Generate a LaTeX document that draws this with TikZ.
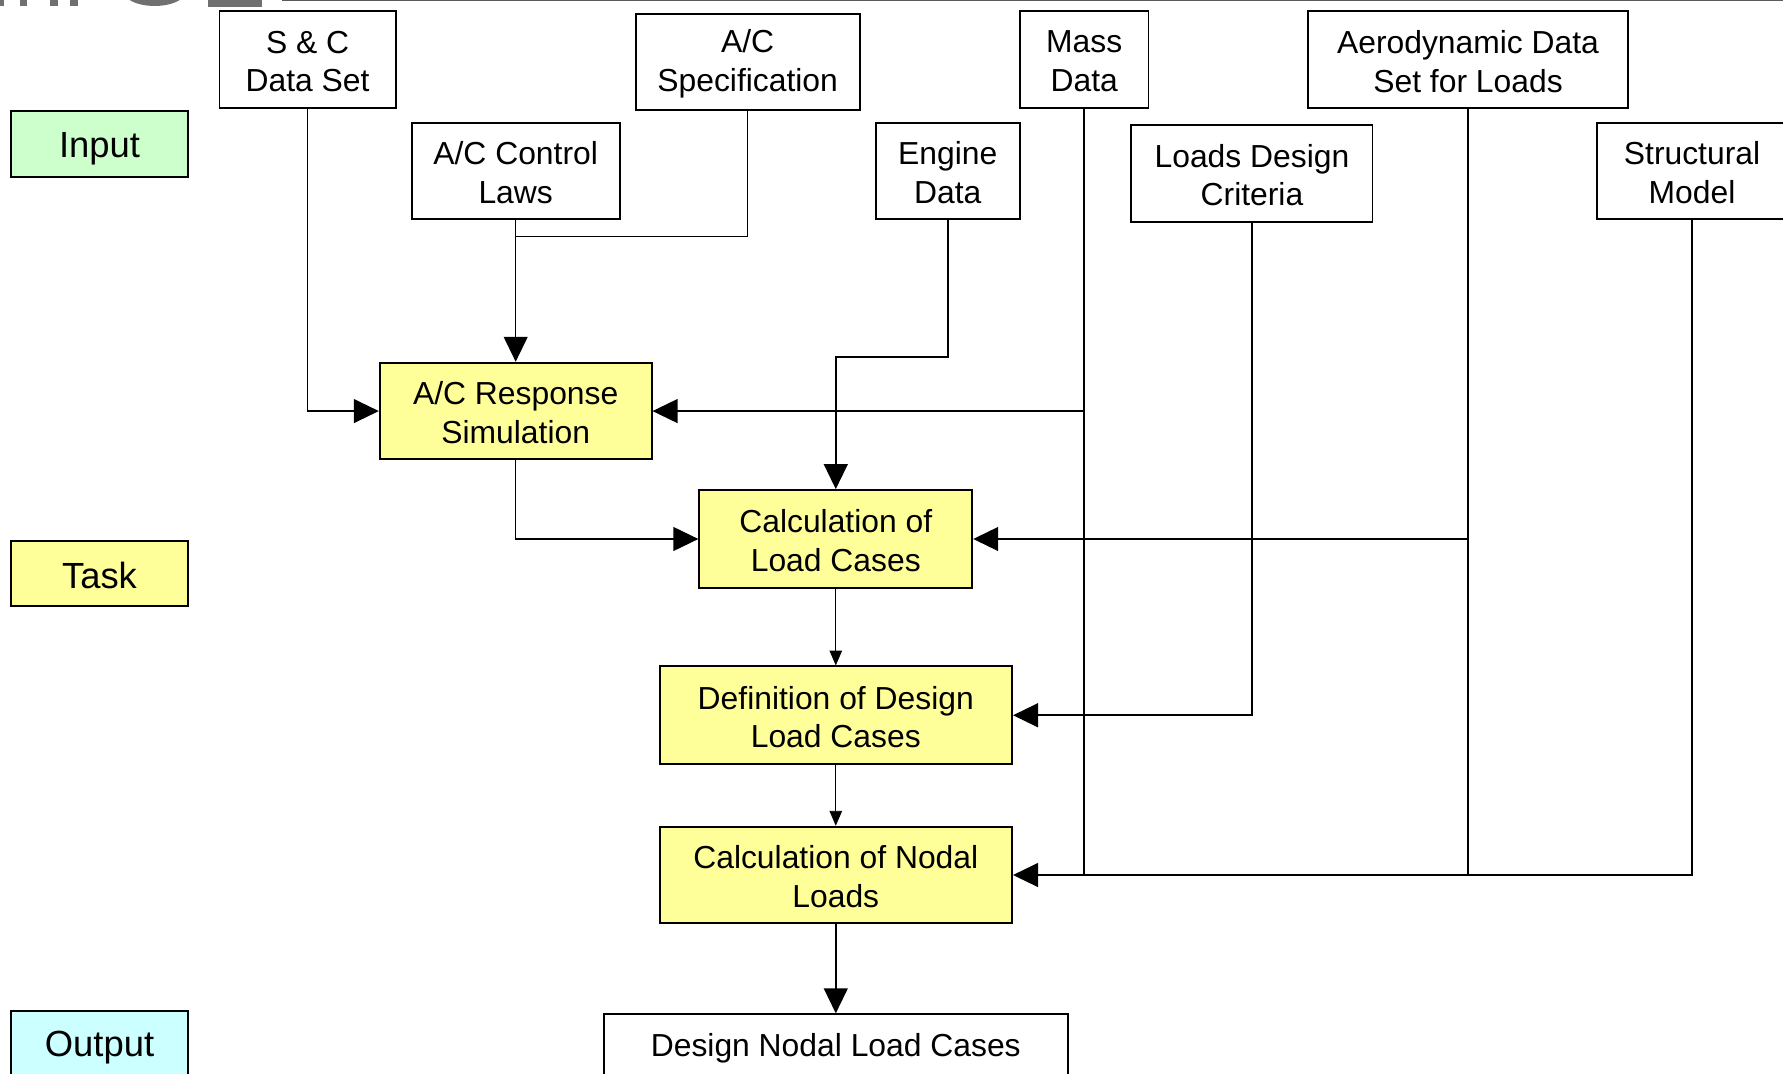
\documentclass[tikz,border=0pt]{standalone}
\usepackage{fontspec}
\setmainfont{Liberation Sans}
\usetikzlibrary{arrows.meta}
\definecolor{inputgreen}{HTML}{CCFFCC}
\definecolor{taskyellow}{HTML}{FFFF99}
\definecolor{outcyan}{HTML}{CCFFFF}
\definecolor{logogray}{HTML}{707070}
\begin{document}
\begin{tikzpicture}[x=1pt,y=-1pt,
  box/.style={draw=black, line width=1.7pt, rectangle, inner sep=0pt},
  txt/.style={align=center, inner sep=0pt, yshift=-1.5pt,
    font=\fontsize{28pt}{34pt}\selectfont},
  labtxt/.style={txt, font=\fontsize{32pt}{38pt}\selectfont},
  task/.style={box, fill=taskyellow},
  lab/.style={box, minimum width=155pt},
  conn/.style={line width=1.4pt},
  bigarrow/.style={conn, -{Triangle[length=22pt,width=21pt]}},
  smallarrow/.style={line width=0.7pt, -{Triangle[length=13pt,width=11pt]}}
]
\useasboundingbox (0,0) rectangle (1568,944);
% partial header logo and rule
\fill[logogray] (0,0) rectangle (3.5,5.3);
\fill[logogray] (17.6,0) rectangle (23.7,5.3);
\fill[logogray] (44,0) rectangle (51,5.3);
\fill[logogray] (61.5,0) rectangle (68.6,5.3);
\fill[logogray] (114,0) .. controls (125,7) and (147,7) .. (158,0) -- cycle;
\fill[logogray] (183,0) rectangle (230,6.5);
\draw[logogray!80!black, line width=1.5pt] (248,0.5) -- (1568,0.5);

% input boxes
\node[box, minimum width=155pt, minimum height=85pt, label={[txt]center:{S \& C\\Data Set}}] (sc) at (270.5,52.5) {};
\node[box, minimum width=197pt, minimum height=85pt, label={[txt]center:{A/C\\Specification}}] (spec) at (657.5,54.5) {};
\node[box, minimum width=113pt, minimum height=85pt, label={[txt]center:{Mass\\Data}}] (mass) at (953.5,52.5) {};
\node[box, minimum width=282pt, minimum height=85pt, label={[txt]center:{Aerodynamic Data\\Set for Loads}}] (aero) at (1291,52.5) {};
\node[box, minimum width=183pt, minimum height=85pt, label={[txt]center:{A/C Control\\Laws}}] (laws) at (453.5,150.5) {};
\node[box, minimum width=127pt, minimum height=85pt, label={[txt]center:{Engine\\Data}}] (engine) at (833.5,150.5) {};
\node[box, minimum width=212pt, minimum height=85pt, label={[txt]center:{Loads Design\\Criteria}}] (ldc) at (1101,152.5) {};
\node[box, minimum width=168pt, minimum height=85pt, label={[txt]center:{Structural\\Model}}] (struct) at (1488,150.5) {};

% row labels
\node[lab, fill=inputgreen, minimum height=58pt, label={[labtxt, yshift=-2pt]center:Input}] (input) at (87.5,127) {};
\node[lab, fill=taskyellow, minimum height=57pt, label={[labtxt]center:Task}] (tasklab) at (87.5,504.5) {};
\node[lab, fill=outcyan, minimum height=62pt, label={[labtxt]center:Output}] (output) at (87.5,920) {};

% task boxes
\node[task, minimum width=239pt, minimum height=85pt, label={[txt]center:{A/C Response\\Simulation}}] (resp) at (453.5,361.5) {};
\node[task, minimum width=240pt, minimum height=86pt, label={[txt]center:{Calculation of\\Load Cases}}] (calc) at (735,474) {};
\node[task, minimum width=310pt, minimum height=86pt, label={[txt]center:{Definition of Design\\Load Cases}}] (defn) at (735,629) {};
\node[task, minimum width=310pt, minimum height=85pt, label={[txt]center:{Calculation of Nodal\\Loads}}] (nodal) at (735,769.5) {};

% output box
\node[box, minimum width=408pt, minimum height=56pt, label={[txt]center:Design Nodal Load Cases}] (dnlc) at (735,920) {};

% connectors
\coordinate (j1) at (laws.south |- 0,208);
\draw[bigarrow] (sc.south) |- (resp.west);
\draw[bigarrow] (laws.south) -- (resp.north);
\draw[conn] (spec.south) |- (j1);
\draw[conn] (mass.south) -- (mass.south |- nodal.east);
\draw[bigarrow] (mass.south |- resp.east) -- (resp.east);
\draw[bigarrow] (engine.south) -- ++(0,120) -| (calc.north);
\draw[bigarrow] (resp.south) |- (calc.west);
\draw[conn] (aero.south) -- (aero.south |- nodal.east);
\draw[bigarrow] (aero.south |- calc.east) -- (calc.east);
\draw[bigarrow] (ldc.south) |- (defn.east);
\draw[bigarrow] (struct.south) |- (nodal.east);
\draw[smallarrow] (calc.south) -- (defn.north);
\draw[smallarrow] (defn.south) -- (nodal.north);
\draw[bigarrow] (nodal.south) -- (dnlc.north);
\end{tikzpicture}
\end{document}
